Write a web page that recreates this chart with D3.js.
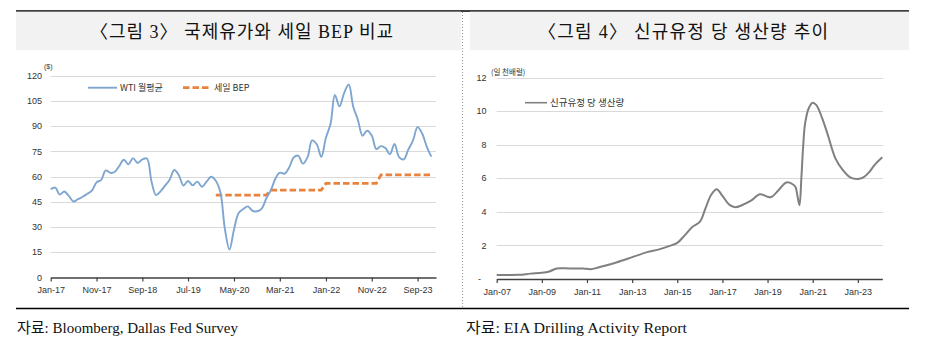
<!DOCTYPE html>
<html>
<head>
<meta charset="utf-8">
<script src="https://cdn.jsdelivr.net/npm/d3@7"></script>
<style>
  body { margin: 0; background: #fff; }
  svg { display: block; }
</style>
</head>
<body>
<svg id="chart" width="946" height="342"></svg>
<script>
// ---- Left panel: WTI monthly average vs. shale breakeven (USD/bbl) ----
const wtiFirstMonth = "2017-01";
const wtiValues = [
  52.5, 53.5, 49.3, 51.1, 48.5, 45.2, 46.6, 48.0, 49.8, 51.6, 56.6, 57.9,   // 2017
  63.7, 62.2, 62.7, 66.3, 70.0, 67.3, 71.0, 68.1, 70.2, 70.8, 57.0, 49.0,   // 2018
  51.4, 54.9, 58.2, 63.9, 60.8, 54.7, 57.4, 54.8, 57.0, 54.0, 57.0, 59.9,   // 2019
  57.5, 50.5, 29.2, 16.6, 28.6, 38.3, 40.7, 42.3, 39.6, 39.4, 41.0, 47.0,   // 2020
  52.0, 59.0, 62.3, 61.7, 65.2, 71.4, 72.5, 67.7, 71.6, 81.5, 79.2, 71.7,   // 2021
  83.2, 91.6, 108.5, 101.8, 109.6, 114.8, 101.6, 93.7, 84.3, 87.3, 84.4, 76.4, // 2022
  78.1, 76.8, 73.3, 79.4, 71.6, 70.3, 76.0, 81.4, 89.4, 85.6, 77.7, 71.9    // 2023
];
const bepYears = [2020, 2021, 2022, 2023];
const bepValues = [49, 52, 56, 61];
const leftXTicks = ["2017-01", "2017-11", "2018-09", "2019-07", "2020-05", "2021-03", "2022-01", "2022-11", "2023-09"];
const leftYTicks = [0, 15, 30, 45, 60, 75, 90, 105, 120];

// ---- Right panel: new-well production per rig (thousand bbl/d) ----
const prodMonths = [
  "2007-01", "2007-07", "2008-01", "2008-07", "2009-01", "2009-05", "2009-09", "2010-01",
  "2010-07", "2010-11", "2011-03", "2011-07", "2011-11", "2012-05", "2013-01", "2013-09",
  "2014-03", "2014-09", "2015-01", "2015-05", "2015-09", "2016-01", "2016-04", "2016-07",
  "2016-10", "2017-01", "2017-05", "2017-08", "2017-11", "2018-04", "2018-09", "2019-01",
  "2019-03", "2019-07", "2019-11", "2020-03", "2020-04", "2020-05", "2020-06", "2020-07",
  "2020-08", "2020-09", "2020-11", "2021-01", "2021-03", "2021-06", "2021-09", "2022-01",
  "2022-05", "2022-09", "2023-01", "2023-04", "2023-07", "2023-10", "2024-02"
];
const prodValues = [
  0.24, 0.24, 0.25, 0.32, 0.37, 0.45, 0.63, 0.64,
  0.62, 0.63, 0.58, 0.68, 0.80, 1.00, 1.30, 1.60,
  1.75, 1.97, 2.15, 2.60, 3.10, 3.40, 4.20, 5.00,
  5.35, 4.95, 4.40, 4.28, 4.38, 4.65, 5.05, 4.90,
  4.88, 5.30, 5.75, 5.60, 5.45, 4.90, 4.40, 6.00,
  8.00, 9.30, 10.20, 10.50, 10.35, 9.60, 8.60, 7.20,
  6.50, 6.05, 5.95, 6.05, 6.35, 6.80, 7.25
];
const rightXTicks = ["2007-01", "2009-01", "2011-01", "2013-01", "2015-01", "2017-01", "2019-01", "2021-01", "2023-01"];
const rightYTicks = [0, 2, 4, 6, 8, 10, 12];

const parseMonth = d3.utcParse("%Y-%m");
const fmtTick = d3.utcFormat("%b-%y");

const svg = d3.select("#chart");
const SANS = "'Liberation Sans', 'Noto Sans CJK KR', sans-serif";
const SERIF = "'Liberation Serif', 'Noto Sans CJK KR', serif";
const KR = "'Noto Sans CJK KR', 'Liberation Sans', sans-serif";

// ---- Frame: rules, title bands, divider, sources ----
svg.append("line").attr("x1", 16).attr("x2", 909).attr("y1", 11).attr("y2", 11)
  .attr("stroke", "#000").attr("stroke-width", 1.4);
svg.append("line").attr("x1", 16).attr("x2", 909).attr("y1", 308.5).attr("y2", 308.5)
  .attr("stroke", "#000").attr("stroke-width", 1.4);
svg.append("rect").attr("x", 16).attr("y", 11.7).attr("width", 445).attr("height", 38.5).attr("fill", "#f2f2f2");
svg.append("rect").attr("x", 470).attr("y", 11.7).attr("width", 439).attr("height", 38.5).attr("fill", "#f2f2f2");
svg.append("line").attr("x1", 462.5).attr("x2", 462.5).attr("y1", 12).attr("y2", 308)
  .attr("stroke", "#777").attr("stroke-width", 0.8).attr("stroke-dasharray", "1,2");

svg.append("text").attr("x", 90).attr("y", 37.5)
  .attr("font-family", SERIF).attr("font-size", 18).attr("fill", "#111")
  .attr("textLength", 303).attr("lengthAdjust", "spacing")
  .text("〈그림 3〉 국제유가와 세일 BEP 비교");
svg.append("text").attr("x", 538).attr("y", 37.5)
  .attr("font-family", SERIF).attr("font-size", 18).attr("fill", "#111")
  .attr("textLength", 290).attr("lengthAdjust", "spacing")
  .text("〈그림 4〉 신규유정 당 생산량 추이");

svg.append("text").attr("x", 17).attr("y", 333)
  .attr("font-family", SERIF).attr("font-size", 15).attr("fill", "#111")
  .attr("textLength", 221).attr("lengthAdjust", "spacingAndGlyphs")
  .text("자료: Bloomberg, Dallas Fed Survey");
svg.append("text").attr("x", 466).attr("y", 333)
  .attr("font-family", SERIF).attr("font-size", 15).attr("fill", "#111")
  .attr("textLength", 221).attr("lengthAdjust", "spacingAndGlyphs")
  .text("자료: EIA Drilling Activity Report");

// ---- Shared axis helpers ----
function drawGrid(g, y, ticks, x0, x1) {
  g.selectAll(".grid").data(ticks.filter(t => t !== 0)).join("line")
    .attr("x1", x0).attr("x2", x1)
    .attr("y1", d => Math.round(y(d)) + 0.5).attr("y2", d => Math.round(y(d)) + 0.5)
    .attr("stroke", "#d9d9d9").attr("stroke-width", 1);
}
function drawXAxis(g, x, yPos, tickDates) {
  const ax = g.append("g").attr("transform", `translate(0,${yPos})`)
    .call(d3.axisBottom(x).tickValues(tickDates).tickFormat(fmtTick).tickSize(4).tickSizeOuter(0));
  ax.select(".domain").attr("stroke", "#404040").attr("stroke-width", 1.3);
  ax.selectAll(".tick line").attr("stroke", "#404040").attr("stroke-width", 1.2);
  ax.selectAll(".tick text").attr("font-family", SANS).attr("font-size", 9).attr("fill", "#333").attr("dy", "0.95em");
}

// ---- Left panel ----
{
  const wtiStart = parseMonth(wtiFirstMonth);
  const wtiDates = wtiValues.map((_, i) => d3.utcMonth.offset(wtiStart, i));
  const x = d3.scaleUtc().domain([wtiStart, d3.utcMonth.offset(wtiStart, 84)]).range([50.7, 436]);
  const y = d3.scaleLinear().domain([0, 120]).range([277.5, 75.7]);
  const g = svg.append("g");

  drawGrid(g, y, leftYTicks, 50.7, 436);

  g.selectAll(".ylab").data(leftYTicks).join("text")
    .attr("x", 42).attr("y", d => y(d)).attr("dy", "0.35em").attr("text-anchor", "end")
    .attr("font-family", SANS).attr("font-size", 9).attr("fill", "#333").text(d => d);
  g.append("text").attr("x", 44).attr("y", 69).attr("font-family", SANS).attr("font-size", 7)
    .attr("fill", "#333").text("($)");

  const bepPts = [];
  bepYears.forEach((yr, i) => {
    bepPts.push([new Date(Date.UTC(yr, 0, 1)), bepValues[i]]);
    bepPts.push([new Date(Date.UTC(yr, 11, 1)), bepValues[i]]);
  });
  g.append("path").datum(bepPts)
    .attr("d", d3.line().x(d => x(d[0])).y(d => y(d[1])))
    .attr("fill", "none").attr("stroke", "#e9823d").attr("stroke-width", 2.8)
    .attr("stroke-dasharray", "6.5,3");

  g.append("path").datum(wtiValues.map((v, i) => [wtiDates[i], v]))
    .attr("d", d3.line().x(d => x(d[0])).y(d => y(d[1])).curve(d3.curveCatmullRom))
    .attr("fill", "none").attr("stroke", "#7ea6d0").attr("stroke-width", 1.9);

  drawXAxis(g, x, 277.5, leftXTicks.map(parseMonth));

  // legend
  g.append("line").attr("x1", 88).attr("x2", 117).attr("y1", 87.7).attr("y2", 87.7)
    .attr("stroke", "#7ea6d0").attr("stroke-width", 1.9);
  g.append("text").attr("x", 120).attr("y", 87.7).attr("dy", "0.35em")
    .attr("font-family", KR).attr("font-size", 9).attr("fill", "#333").text("WTI 월평균");
  g.append("line").attr("x1", 183).attr("x2", 211).attr("y1", 87.7).attr("y2", 87.7)
    .attr("stroke", "#e9823d").attr("stroke-width", 2.8).attr("stroke-dasharray", "6.5,3");
  g.append("text").attr("x", 214).attr("y", 87.7).attr("dy", "0.35em")
    .attr("font-family", KR).attr("font-size", 9).attr("fill", "#333").text("세일 BEP");
}

// ---- Right panel ----
{
  const x = d3.scaleUtc().domain([parseMonth("2007-01"), parseMonth("2024-02")]).range([496.7, 882.3]);
  const y = d3.scaleLinear().domain([0, 12]).range([279, 77.5]);
  const g = svg.append("g");

  drawGrid(g, y, rightYTicks, 496.7, 883);

  g.selectAll(".ylab").data(rightYTicks).join("text")
    .attr("x", d => d === 0 ? 481 : 486.5).attr("y", d => y(d)).attr("dy", "0.35em").attr("text-anchor", "end")
    .attr("font-family", SANS).attr("font-size", 9).attr("fill", "#333").text(d => d === 0 ? "-" : d);
  g.append("text").attr("x", 491).attr("y", 75).attr("font-family", KR).attr("font-size", 7.5)
    .attr("fill", "#333").text("(일 천배럴)");

  g.append("path").datum(prodValues.map((v, i) => [parseMonth(prodMonths[i]), v]))
    .attr("d", d3.line().x(d => x(d[0])).y(d => y(d[1])).curve(d3.curveCatmullRom))
    .attr("fill", "none").attr("stroke", "#808080").attr("stroke-width", 2);

  drawXAxis(g, x, 279, rightXTicks.map(parseMonth));

  g.append("line").attr("x1", 525).attr("x2", 547).attr("y1", 102.7).attr("y2", 102.7)
    .attr("stroke", "#808080").attr("stroke-width", 1.6);
  g.append("text").attr("x", 550).attr("y", 102.7).attr("dy", "0.35em")
    .attr("font-family", KR).attr("font-size", 9.5).attr("fill", "#333").text("신규유정 당 생산량");
}
</script>
</body>
</html>
